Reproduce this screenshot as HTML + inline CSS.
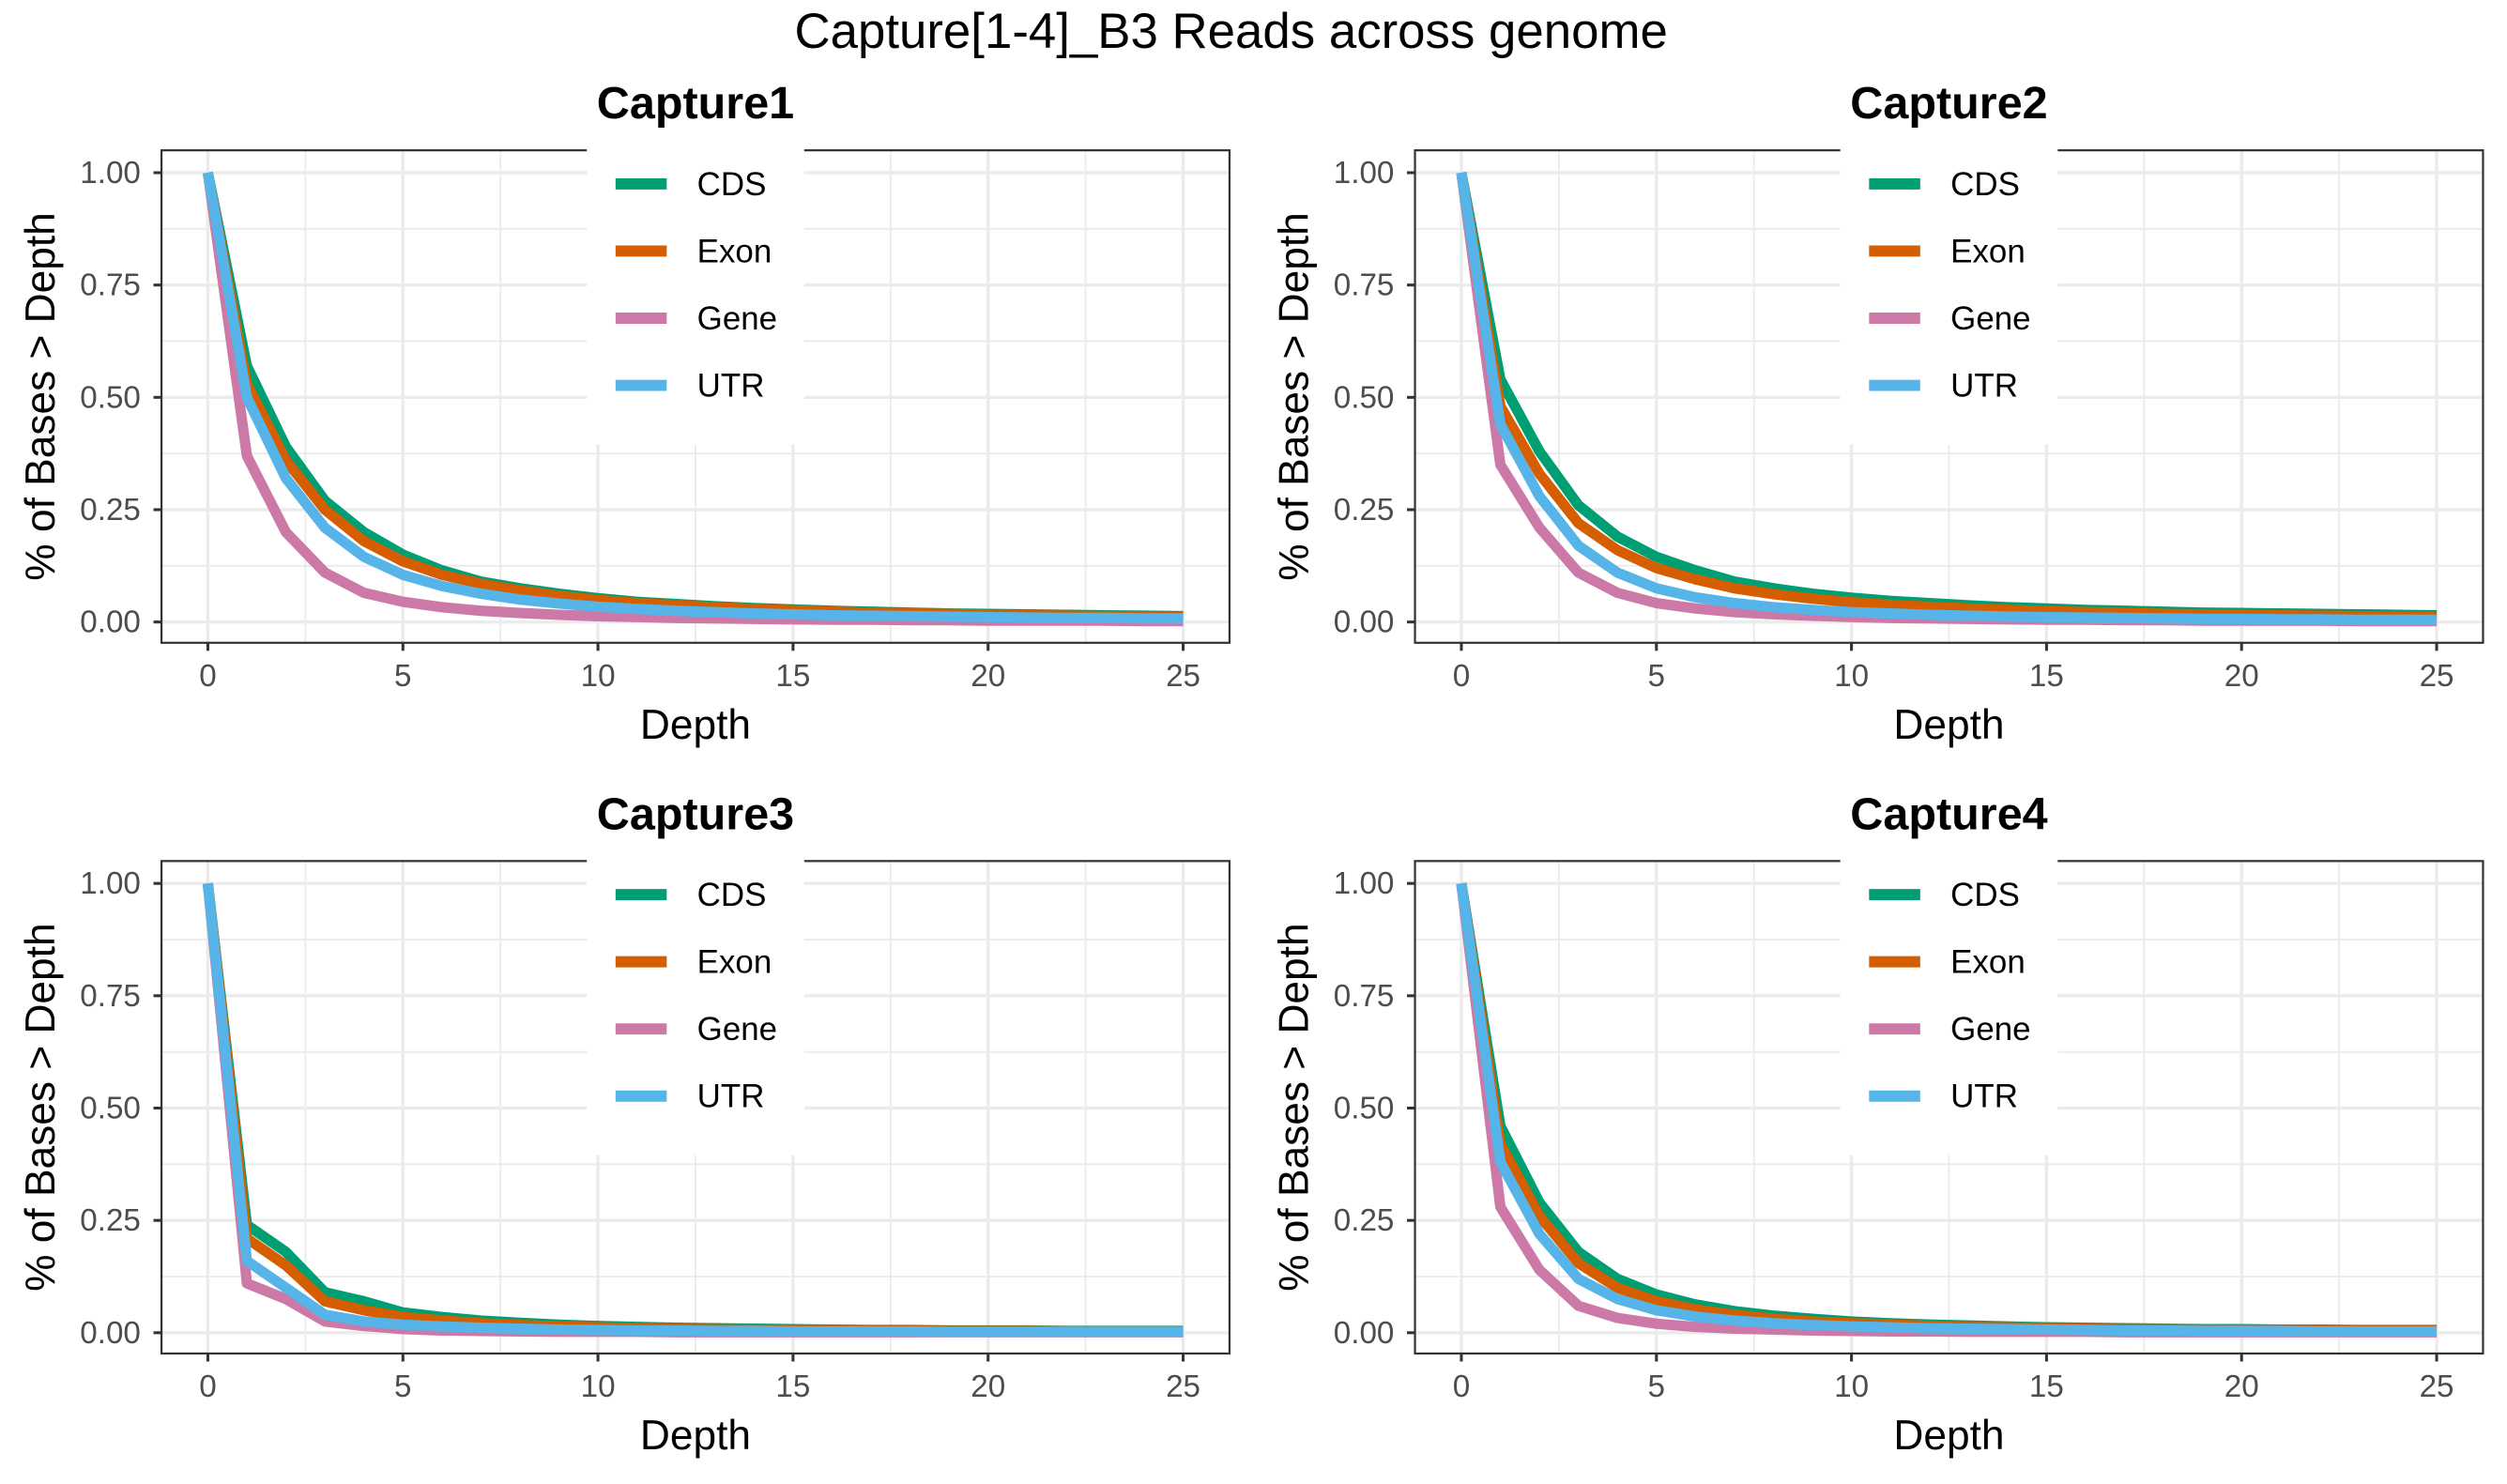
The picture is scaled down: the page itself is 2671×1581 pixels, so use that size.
<!DOCTYPE html>
<html><head><meta charset="utf-8"><style>html,body{margin:0;padding:0;background:#fff}svg{display:block}text{font-family:"Liberation Sans",sans-serif}</style></head>
<body>
<svg id="chart" width="2671" height="1581" viewBox="0 0 1568 928.1" xmlns="http://www.w3.org/2000/svg">
<rect width="1568" height="928.1" fill="#fff"/>
<text x="770" y="30" font-size="31" text-anchor="middle" fill="#000">Capture[1-4]_B3 Reads across genome</text>
</svg>
<script>
const panelTitles = ["Capture1","Capture2","Capture3","Capture4"];
const seriesNames = ["CDS","Exon","Gene","UTR"];
const seriesColors = ["#009E73","#D55E00","#CC79A7","#56B4E9"];
const depths = [0,1,2,3,4,5,6,7,8,9,10,11,12,13,14,15,16,17,18,19,20,21,22,23,24,25];
const xTicks = [0,5,10,15,20,25];
const yTicks = [0,0.25,0.5,0.75,1];
const yTickLabels = ["0.00","0.25","0.50","0.75","1.00"];
const p1CDS  = [1,.57,.39,.27,.20,.15,.115,.09,.075,.063,.053,.045,.04,.035,.031,.028,.025,.023,.021,.019,.018,.017,.016,.015,.014,.013];
const p1Exon = [1,.53,.36,.25,.18,.135,.105,.085,.07,.058,.049,.042,.037,.033,.029,.026,.023,.021,.019,.018,.016,.015,.014,.013,.012,.012];
const p1Gene = [1,.37,.20,.11,.065,.045,.033,.025,.02,.016,.013,.011,.009,.008,.007,.006,.005,.005,.004,.004,.003,.003,.003,.003,.002,.002];
const p1UTR  = [1,.50,.32,.21,.145,.105,.08,.063,.05,.041,.034,.029,.025,.022,.019,.017,.015,.014,.013,.012,.011,.010,.009,.009,.008,.008];
const p2CDS  = [1,.54,.38,.26,.19,.145,.115,.09,.075,.063,.054,.047,.042,.037,.033,.03,.027,.025,.023,.021,.02,.019,.018,.017,.016,.015];
const p2Exon = [1,.48,.33,.22,.16,.12,.095,.075,.062,.052,.044,.038,.034,.03,.027,.024,.022,.02,.018,.017,.016,.015,.014,.013,.012,.012];
const p2Gene = [1,.35,.21,.11,.065,.042,.03,.022,.017,.014,.011,.009,.008,.007,.006,.005,.005,.004,.004,.003,.003,.003,.003,.002,.002,.002];
const p2UTR  = [1,.44,.28,.17,.11,.075,.055,.042,.033,.027,.022,.019,.016,.014,.012,.011,.01,.009,.008,.007,.007,.006,.006,.005,.005,.005];
const p3CDS  = [1,.24,.18,.09,.07,.045,.035,.027,.022,.018,.015,.013,.011,.01,.009,.008,.007,.006,.006,.005,.005,.005,.004,.004,.004,.004];
const p3Exon = [1,.21,.15,.07,.05,.035,.027,.021,.017,.014,.012,.01,.009,.008,.007,.006,.006,.005,.005,.004,.004,.004,.003,.003,.003,.003];
const p3Gene = [1,.11,.075,.025,.015,.008,.005,.004,.003,.002,.002,.002,.001,.001,.001,.001,.001,.001,.001,.001,.001,.001,.001,.001,.001,.001];
const p3UTR  = [1,.16,.10,.04,.025,.018,.014,.011,.009,.007,.006,.005,.005,.004,.004,.003,.003,.003,.003,.002,.002,.002,.002,.002,.002,.002];
const p4CDS  = [1,.46,.29,.18,.12,.085,.063,.048,.038,.031,.025,.021,.018,.016,.014,.012,.011,.01,.009,.008,.008,.007,.007,.006,.006,.006];
const p4Exon = [1,.42,.26,.155,.10,.07,.052,.04,.031,.025,.021,.018,.015,.013,.012,.01,.009,.008,.008,.007,.006,.006,.006,.005,.005,.005];
const p4Gene = [1,.28,.14,.06,.033,.02,.013,.009,.007,.005,.004,.003,.003,.002,.002,.002,.002,.001,.001,.001,.001,.001,.001,.001,.001,.001];
const p4UTR  = [1,.38,.22,.12,.075,.05,.036,.027,.021,.017,.014,.012,.01,.009,.008,.007,.006,.005,.005,.004,.004,.004,.003,.003,.003,.003];
const panelData = [[p1CDS,p1Exon,p1Gene,p1UTR],[p2CDS,p2Exon,p2Gene,p2UTR],[p3CDS,p3Exon,p3Gene,p3UTR],[p4CDS,p4Exon,p4Gene,p4UTR]];

const svg = document.getElementById('chart');
const NS = 'http://www.w3.org/2000/svg';
function mk(tag, attrs, parent){const e=document.createElementNS(NS,tag);for(const k in attrs)e.setAttribute(k,attrs[k]);(parent||svg).appendChild(e);return e;}

panelTitles.forEach((title,pi)=>{
  const ox = (pi%2)*784, oy = Math.floor(pi/2)*444.5;
  const L=101+ox, R=769+ox, T=94+oy, B=402+oy;
  const xs = v => 130+ox + (v-0)/25*(740-130);
  const ys = v => 389+oy - v*(389-108);
  const g = mk('g',{});
  
  
  for(let i=0;i<yTicks.length-1;i++){const v=(yTicks[i]+yTicks[i+1])/2;mk('line',{x1:L,x2:R,y1:ys(v),y2:ys(v),stroke:'#ebebeb','stroke-width':1.1},g);}
  for(let i=0;i<xTicks.length-1;i++){const v=(xTicks[i]+xTicks[i+1])/2;mk('line',{x1:xs(v),x2:xs(v),y1:T,y2:B,stroke:'#ebebeb','stroke-width':1.1},g);}
  yTicks.forEach(v=>mk('line',{x1:L,x2:R,y1:ys(v),y2:ys(v),stroke:'#ebebeb','stroke-width':2},g));
  xTicks.forEach(v=>mk('line',{x1:xs(v),x2:xs(v),y1:T,y2:B,stroke:'#ebebeb','stroke-width':2},g));
  panelData[pi].forEach((arr,si)=>{
    const d = depths.map((x,i)=>(i?'L':'M')+xs(x).toFixed(2)+' '+ys(arr[i]).toFixed(2)).join(' ');
    const p = mk('path',{d:d,fill:'none',stroke:seriesColors[si],'stroke-width':6.5,'stroke-linejoin':'round'},g);
    
    
  });
  mk('rect',{x:L,y:T,width:R-L,height:B-T,fill:'none',stroke:'#333','stroke-width':1.3},g);
  yTicks.forEach((v,i)=>{
    mk('line',{x1:L-5,x2:L,y1:ys(v),y2:ys(v),stroke:'#333','stroke-width':1.8},g);
    const t=mk('text',{x:L-13,y:ys(v)+6.5,'font-size':19.5,'text-anchor':'end',fill:'#4d4d4d'},g);t.textContent=yTickLabels[i];
    
    
  });
  xTicks.forEach(v=>{
    mk('line',{x1:xs(v),x2:xs(v),y1:B,y2:B+5,stroke:'#333','stroke-width':1.8},g);
    const t=mk('text',{x:xs(v),y:B+27,'font-size':19.5,'text-anchor':'middle',fill:'#4d4d4d'},g);t.textContent=String(v);
    
    
  });
  const xt=mk('text',{x:(L+R)/2,y:B+60,'font-size':26,'text-anchor':'middle',fill:'#000'},g);xt.textContent='Depth';
  
  
  const cy=(T+B)/2;
  const yx=34+ox;
  const yt=mk('text',{x:yx,y:cy,'font-size':26,'text-anchor':'middle',fill:'#000',transform:`rotate(-90 ${yx} ${cy})`},g);yt.textContent='% of Bases > Depth';
  
  
  const pt=mk('text',{x:435+ox,y:T-20,'font-size':28.5,'font-weight':'bold','text-anchor':'middle',fill:'#000'},g);pt.textContent=title;
  
  
  const lg=mk('g',{},g);
  
  
  mk('rect',{x:367+ox,y:T-14,width:136,height:198,fill:'#fff'},lg);
  seriesNames.forEach((n,si)=>{
    const yy=T+21+si*42;
    const e=mk('g',{},lg);
    
    
    mk('line',{x1:385+ox,x2:417+ox,y1:yy,y2:yy,stroke:seriesColors[si],'stroke-width':7},e);
    const t=mk('text',{x:436+ox,y:yy+7,'font-size':20.5,fill:'#000'},e);t.textContent=n;
  });
});
</script>
</body></html>
